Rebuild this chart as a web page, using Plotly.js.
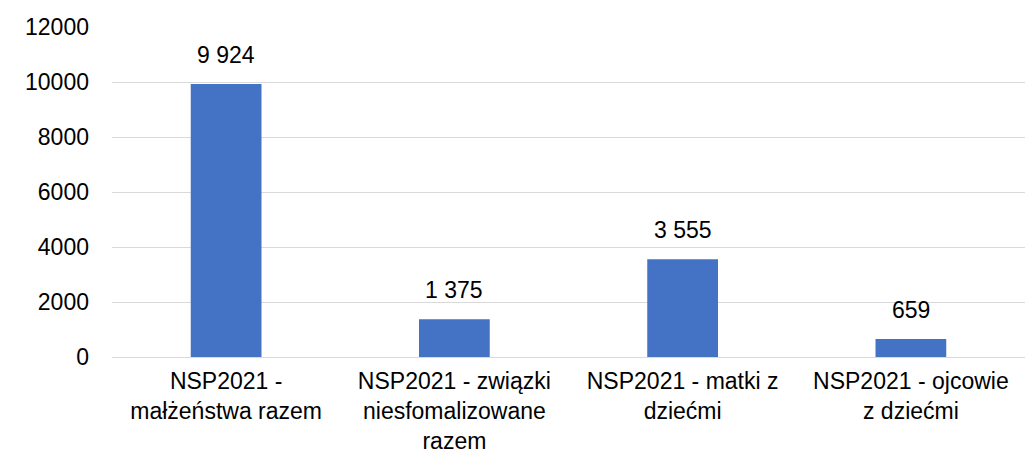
<!DOCTYPE html>
<html>
<head>
<meta charset="utf-8">
<script src="https://cdn.plot.ly/plotly-3.0.1.min.js"></script>
<style>
  html, body { margin: 0; padding: 0; background: #fff; }
  #chart { width: 1028px; height: 456px; }
</style>
</head>
<body>
<div id="chart"></div>
<script>
var categories = [
    'NSP2021 -<br>małżeństwa razem',
    'NSP2021 - związki<br>niesfomalizowane<br>razem',
    'NSP2021 - matki z<br>dziećmi',
    'NSP2021 - ojcowie<br>z dziećmi'
];
var values = [9924, 1375, 3555, 659];
var valueLabels = ['9 924', '1 375', '3 555', '659'];
var yTicks = [0, 2000, 4000, 6000, 8000, 10000, 12000];

var bars = {
    x: categories,
    y: values,
    type: 'bar',
    marker: { color: '#4472c4' },
    hoverinfo: 'none'
};

var labels = categories.map(function (c, i) {
    return {
        x: c,
        y: values[i],
        text: valueLabels[i],
        showarrow: false,
        yanchor: 'bottom',
        yshift: 14,
        font: { size: 23, color: '#000' }
    };
});

var layout = {
    width: 1028,
    height: 456,
    margin: { l: 112, r: 3, t: 27, b: 99 },
    paper_bgcolor: '#fff',
    plot_bgcolor: '#fff',
    font: { family: 'Liberation Sans, Arial, sans-serif', size: 23, color: '#000' },
    showlegend: false,
    bargap: 0.69,
    xaxis: {
        showline: false,
        ticks: '',
        ticklabelstandoff: 8,
        tickfont: { size: 23, color: '#000' }
    },
    yaxis: {
        range: [0, 12000],
        tickvals: yTicks,
        tickformat: 'd',
        showgrid: true,
        gridcolor: '#d9d9d9',
        gridwidth: 1,
        zeroline: true,
        zerolinecolor: '#d9d9d9',
        zerolinewidth: 1,
        showline: false,
        ticks: '',
        ticklabelstandoff: 22,
        tickfont: { size: 23, color: '#000' }
    },
    annotations: labels
};

Plotly.newPlot('chart', [bars], layout, { staticPlot: true });
</script>
</body>
</html>
